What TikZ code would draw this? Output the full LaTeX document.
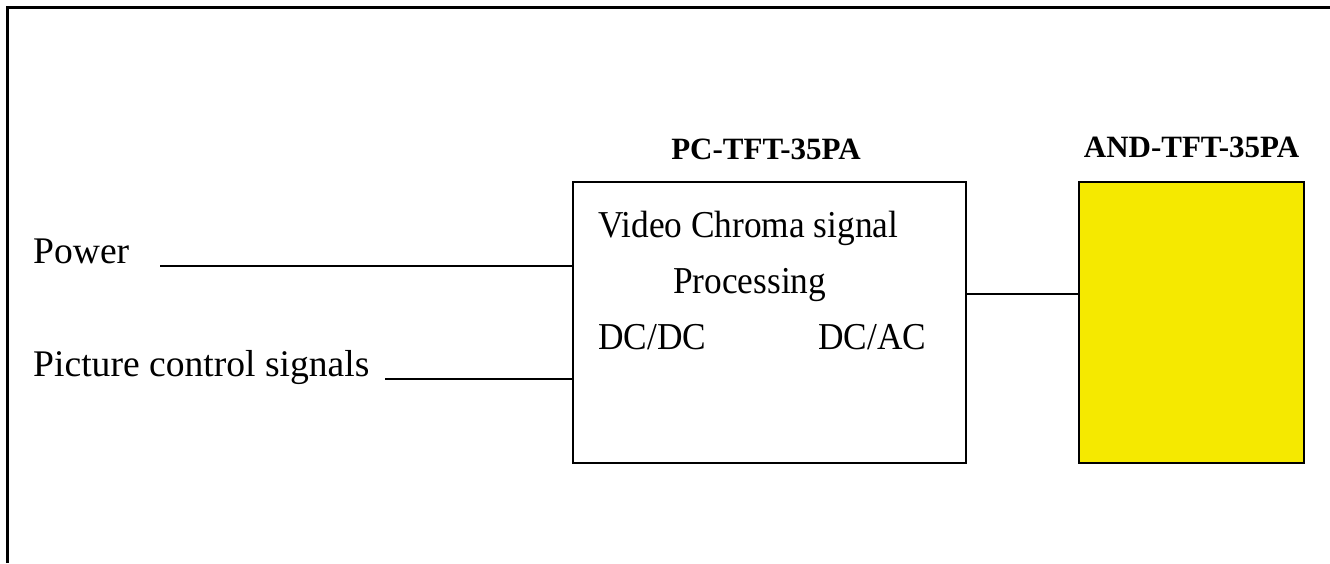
\documentclass[tikz,border=0pt]{standalone}
\usepackage{fontspec}
\setmainfont{Liberation Serif}
\newfontfamily\boxfont[FakeStretch=0.93]{Liberation Serif}
\definecolor{lcdyellow}{RGB}{245,233,0}
\begin{document}
\begin{tikzpicture}[x=1pt,y=-1pt,
  lbl/.style={anchor=base west,inner sep=0pt,font=\fontsize{37.6}{44}\selectfont},
  boxtxt/.style={anchor=base west,inner sep=0pt,font=\boxfont\fontsize{38}{46}\selectfont},
  ttl/.style={anchor=base,inner sep=0pt,font=\bfseries\fontsize{31}{37}\selectfont},
  wire/.style={line width=2.2pt},
  blk/.style={draw,line width=2.2pt,inner sep=0pt}]
\useasboundingbox (0,0) rectangle (1330,563);
\fill[white] (0,0) rectangle (1330,563);
% frame
\draw[line width=3pt] (7,563) -- (7,7) -- (1330,7);
% blocks
\node[blk,minimum width=393pt,minimum height=281pt] (proc) at (769.5,322.5) {};
\node[blk,fill=lcdyellow,minimum width=225pt,minimum height=281pt] (lcd) at (1191.5,322.5) {};
% titles
\node[ttl] (proct) at (766,159) {PC-TFT-35PA};
\node[ttl] (lcdt) at (1191.5,157.5) {AND-TFT-35PA};
% box texts
\node[boxtxt] (t1) at (598,237) {Video Chroma signal};
\node[boxtxt] (t2) at (673,293) {Processing};
\node[boxtxt] (t3) at (598,349) {DC/DC};
\node[boxtxt] (t4) at (818,349) {DC/AC};
% inputs
\node[lbl] (pw) at (33,263) {Power};
\node[lbl] (pc) at (33,376) {Picture control signals};
\coordinate (pws) at (160,266);
\coordinate (pcs) at (385,379);
\draw[wire] (pws) -- (pws -| proc.west);
\draw[wire] (pcs) -- (pcs -| proc.west);
\coordinate (mid) at (966,294);
\draw[wire] (mid -| proc.east) -- (mid -| lcd.west);
\end{tikzpicture}
\end{document}
